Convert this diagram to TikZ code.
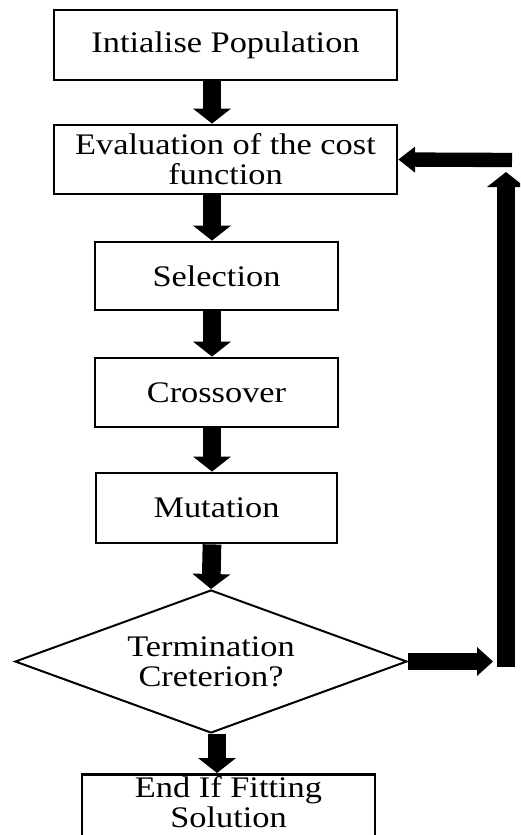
\documentclass[tikz,border=0pt]{standalone}
\usepackage{fontspec}
\setmainfont{Liberation Serif}[FakeStretch=1.15]
\usepackage{tikz}
\usetikzlibrary{arrows.meta,positioning,shapes.geometric}
\tikzset{
  procnode/.style={rectangle,draw=black,line width=2.4pt,fill=white,inner sep=1pt,align=center},
  decnode/.style={diamond,draw=black,line width=1.7pt,fill=white,aspect=2.74,inner sep=1pt,align=center,
    minimum width=11.76cm,minimum height=4.29cm},
  flowarrow/.style={-{Triangle[length=4.5mm,width=11.4mm,line width=0pt]},line width=5.6mm,draw=black},
  feedarrow/.style={-{Triangle[length=5mm,width=7.8mm,line width=0pt]},line width=4.3mm,draw=black}
}

\begin{document}
\begin{tikzpicture}[x=0.03cm,y=-0.03cm,font=\fontsize{25.5}{25.6}\selectfont]
  \useasboundingbox (0,0) rectangle (520,835);
  \clip (0,0) rectangle (520,835);
  \node[procnode,minimum width=10.29cm,minimum height=2.1cm] (init) at (225.5,45) {Intialise Population};
  \node[procnode,minimum width=10.29cm,minimum height=2.07cm] (eval) at (225.5,159.5) {Evaluation of the cost\\function};
  \node[procnode,minimum width=7.29cm,minimum height=2.04cm] (sel) at (216.5,276) {Selection};
  \node[procnode,minimum width=7.29cm,minimum height=2.07cm] (cross) at (216.5,392.5) {Crossover};
  \node[procnode,minimum width=7.23cm,minimum height=2.1cm] (mut) at (216.5,508) {Mutation};
  \node[decnode] (term) at (211,661.5) {Termination\\Creterion?};
  % box runs off the bottom edge
  \node[procnode,minimum width=8.79cm,anchor=north,text height=1.55cm,text depth=1cm] (fin) at (228.5,773) {End If Fitting\\Solution};
  % arrow columns and the loop back
  \coordinate (spine) at (212,0);
  \coordinate (endspine) at (217,0);
  \coordinate (loopout) at (493,661.5);
  \coordinate (loopbot) at (506,667);
  \coordinate (looptop) at (506,172);
  \coordinate (loopin) at (512,160);
  \draw[flowarrow] (init.south -| spine) -- (eval.north -| spine);
  \draw[flowarrow] (eval.south -| spine) -- (sel.north -| spine);
  \draw[flowarrow] (sel.south -| spine) -- (cross.north -| spine);
  \draw[flowarrow] (cross.south -| spine) -- (mut.north -| spine);
  \draw[flowarrow] (mut.south -| spine) -- (term.north);
  \draw[flowarrow] (term.south -| endspine) -- (fin.north -| endspine);
  \draw[flowarrow,line width=5.1mm,-{Triangle[length=4.8mm,width=8.7mm,line width=0pt]}] (term.east) -- (loopout);
  \draw[flowarrow] (loopbot) -- (looptop);
  \draw[feedarrow] (loopin) -- (eval.east);
\end{tikzpicture}
\end{document}
